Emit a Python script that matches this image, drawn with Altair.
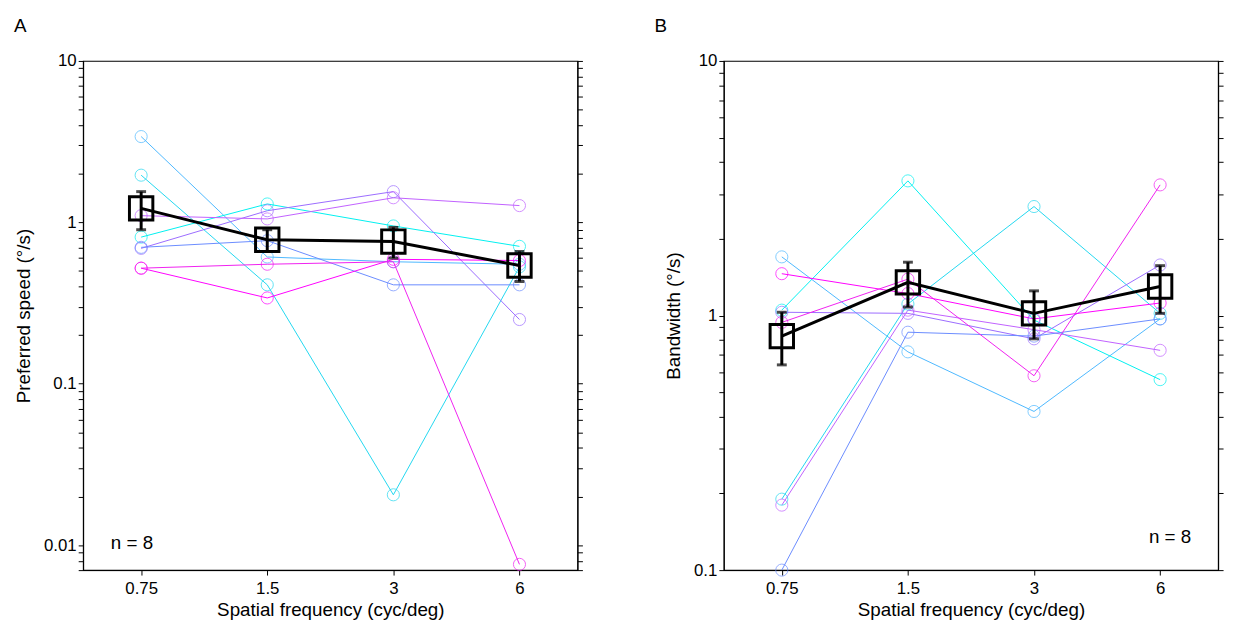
import altair as alt
import pandas as pd

sf = ["0.75", "1.5", "3", "6"]
colors = ["#4db8ff", "#22d8f0", "#00f0f0", "#9b6bff", "#c060ff", "#6a8cff", "#ff00ff", "#f020f0"]

speed = [
    [3.4, 0.61, 0.57, 0.55],
    [1.96, 0.41, 0.0205, 0.53],
    [0.81, 1.3, 0.95, 0.71],
    [0.69, 1.18, 1.55, 0.25],
    [1.1, 1.05, 1.42, 1.27],
    [0.7, 0.77, 0.41, 0.41],
    [0.52, 0.34, 0.59, 0.58],
    [0.52, 0.55, 0.57, 0.0076],
]
speed_mean = [1.22, 0.78, 0.76, 0.54]
speed_lo = [0.9, 0.66, 0.6, 0.43]
speed_hi = [1.55, 0.9, 0.93, 0.66]

bw = [
    [1.7, 0.72, 0.42, 0.97],
    [0.19, 1.11, 2.68, 1.02],
    [1.05, 3.38, 0.96, 0.56],
    [1.03, 1.02, 0.81, 1.58],
    [0.18, 1.05, 0.88, 0.73],
    [0.1, 0.86, 0.83, 0.97],
    [1.46, 1.22, 0.97, 1.12],
    [0.94, 1.39, 0.58, 3.26],
]
bw_mean = [0.83, 1.35, 1.02, 1.3]
bw_lo = [0.64, 1.08, 0.81, 1.02]
bw_hi = [1.03, 1.62, 1.25, 1.57]

FONT = "Liberation Sans"
minor = [round(m * 10 ** e, 6) for e in range(-3, 2) for m in range(1, 10)]


def panel(rows, mean, lo, hi, ytitle, dom, letter, nx, ny):
    df = pd.DataFrame([{"subj": f"s{i}", "sf": s, "v": r[j]}
                       for i, r in enumerate(rows) for j, s in enumerate(sf)])
    mdf = pd.DataFrame({"sf": sf, "v": mean, "lo": lo, "hi": hi})
    ticks = [t for t in minor if dom[0] <= t <= dom[1]]
    xs = alt.X("sf:N", sort=sf, scale=alt.Scale(type="point", padding=0.46),
               axis=alt.Axis(title="Spatial frequency (cyc/deg)", labelAngle=0,
                             labelFontSize=17, titleFontSize=19, labelColor="black",
                             titleColor="black", tickColor="black", domainColor="black",
                             labelFont=FONT, titleFont=FONT, labelPadding=6,
                             titleFontWeight="normal"))
    ysc = alt.Scale(type="log", domain=dom, nice=False)
    yl = alt.Axis(title=ytitle, values=ticks,
                  labelExpr="indexof([0.01, 0.1, 1, 10], datum.value) >= 0 ? datum.label : ''",
                  format="~g", labelFontSize=17, titleFontSize=19, labelFont=FONT,
                  titleFont=FONT, labelColor="black", titleColor="black",
                  titleFontWeight="normal", tickColor="black", domainColor="black",
                  grid=False, titlePadding=10)
    yr = alt.Axis(orient="right", values=ticks, labels=False, title=None,
                  tickColor="black", domainColor="black", grid=False)
    cscale = alt.Scale(domain=[f"s{i}" for i in range(8)], range=colors)
    lines = alt.Chart(df).mark_line(strokeWidth=1).encode(
        x=xs, y=alt.Y("v:Q", scale=ysc, axis=yl),
        color=alt.Color("subj:N", scale=cscale, legend=None), detail="subj:N")
    pts = alt.Chart(df).mark_point(shape="circle", size=150, filled=False, strokeWidth=1).encode(
        x=xs, y=alt.Y("v:Q", scale=ysc, axis=yr),
        color=alt.Color("subj:N", scale=cscale, legend=None))
    mline = alt.Chart(mdf).mark_line(color="black", strokeWidth=3).encode(
        x=xs, y=alt.Y("v:Q", scale=ysc, axis=None))
    err = alt.Chart(mdf).mark_errorbar(color="black", thickness=3, ticks=alt.MarkConfig(size=10)).encode(
        x=xs, y=alt.Y("lo:Q", scale=ysc, axis=None), y2="hi:Q")
    sq = alt.Chart(mdf).mark_point(shape="square", size=560, filled=False, color="black",
                                   strokeWidth=3, opacity=1).encode(
        x=xs, y=alt.Y("v:Q", scale=ysc, axis=None))
    txt = alt.Chart(pd.DataFrame({"t": ["n = 8"]})).mark_text(
        fontSize=19, font=FONT, align="left").encode(
        text="t:N", x=alt.value(nx), y=alt.value(ny))
    return alt.layer(lines, pts, err, mline, sq, txt).resolve_axis(y="independent").properties(
        width=500, height=515,
        title=alt.TitleParams(letter, anchor="start", frame="group", dx=-70, dy=-12, offset=4,
                              fontSize=19, font=FONT, fontWeight="normal"))


a = panel(speed, speed_mean, speed_lo, speed_hi, "Preferred speed (°/s)", [0.007, 10], "A", 28, 488)
b = panel(bw, bw_mean, bw_lo, bw_hi, "Bandwidth (°/s)", [0.1, 10], "B", 430, 482)

chart = alt.hconcat(a, b, spacing=70).configure_view(stroke="black", strokeWidth=1.2)
chart.save("out.html", embed_options={"renderer": "svg", "actions": False})
